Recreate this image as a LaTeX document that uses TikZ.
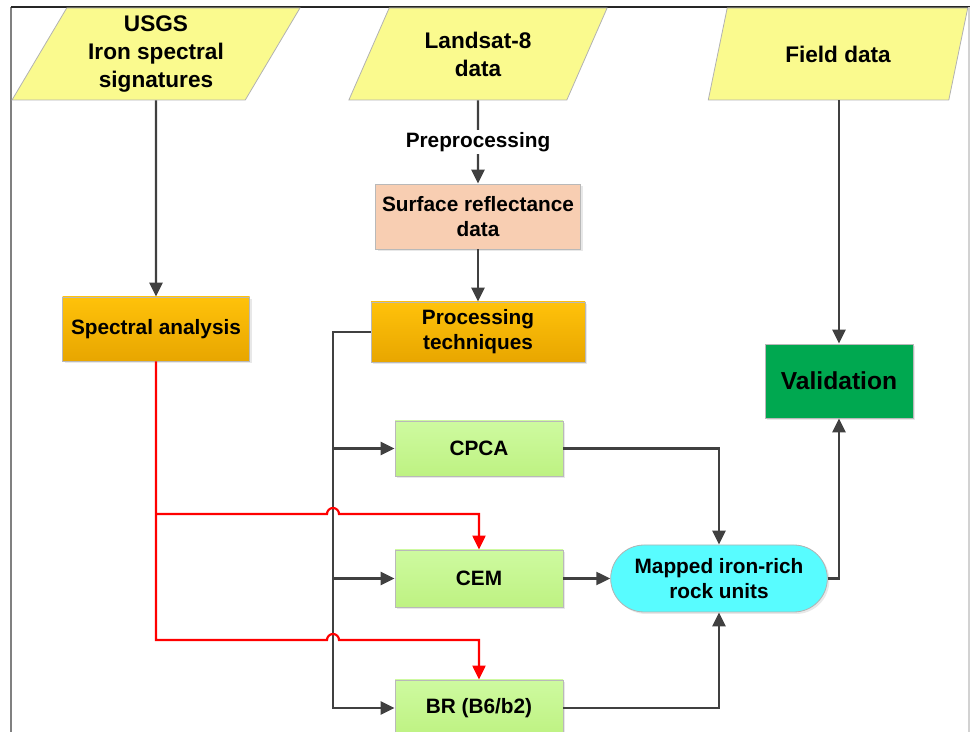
\documentclass[tikz,border=0pt]{standalone}
\usepackage{fontspec}
\setmainfont{Liberation Sans}
\usetikzlibrary{shapes.geometric, shapes.misc, arrows.meta, shadows}

\definecolor{inputyellow}{RGB}{250,250,142}
\definecolor{peach}{RGB}{248,206,178}
\definecolor{ambertop}{RGB}{255,194,10}
\definecolor{amberbot}{RGB}{232,166,0}
\definecolor{limetop}{RGB}{206,250,160}
\definecolor{limebot}{RGB}{190,242,130}
\definecolor{okgreen}{RGB}{0,168,80}
\definecolor{mapcyan}{RGB}{88,252,255}
\definecolor{wire}{RGB}{64,64,64}

\begin{document}
\begin{tikzpicture}[x=0.5pt, y=-0.5pt,
    every node/.style={font=\bfseries\fontsize{10.4}{12.5}\selectfont, align=center, text=black},
    inputbox/.style={trapezium, trapezium left angle=61.5, trapezium right angle=118.5,
        trapezium stretches=true, draw=gray!60, fill=inputyellow, inner sep=0pt,
        minimum height=46pt, font=\bfseries\fontsize{11.3}{14}\selectfont},
    box/.style={rectangle, draw=gray!55, inner sep=0pt,
        drop shadow={shadow xshift=1pt, shadow yshift=-1pt, opacity=0.18}},
    ambox/.style={box, top color=ambertop, bottom color=amberbot},
    limebox/.style={box, top color=limetop, bottom color=limebot,
        minimum width=84pt},
    flow/.style={wire, line width=1.2pt, -{Triangle[length=7pt, width=6.5pt]}},
    redflow/.style={red, line width=1.1pt, -{Triangle[length=7pt, width=6.5pt]}}]

    \useasboundingbox (0,0) rectangle (971,732);

    % Frame
    \draw[gray, line width=1pt] (11,732) -- (11,7);
    \draw[black!85, line width=0.8pt] (11,7) -- (970,7);
    \draw[gray!35, line width=0.6pt] (969,7) -- (969,732);

    % Inputs
    \node[inputbox, minimum width=144pt] (usgs) at (156,54) {USGS\\Iron spectral\\signatures};
    \node[inputbox, minimum width=130pt] (landsat) at (478,54) {Landsat-8\\data};
    \node[inputbox, minimum width=130.5pt] (field) at (838,54) {Field data};

    % Middle column
    \node[box, fill=peach, minimum width=102.5pt, minimum height=32.5pt] (surface) at (478,216.5) {Surface reflectance\\data};
    \node[ambox, minimum width=107pt, minimum height=30pt] (proc) at (478,332) {Processing\\techniques};
    \node[ambox, minimum width=93.5pt, minimum height=32pt] (spectral) at (156,329) {Spectral analysis};

    % Techniques
    \node[limebox, minimum height=27.5pt] (cpca) at (479,448.5) {CPCA};
    \node[limebox, minimum height=28.5pt] (cem) at (479,578.5) {CEM};
    \node[limebox, minimum height=28pt] (br) at (479,708) {BR (B6/b2)};

    % Result and check
    \node[rounded rectangle, draw=gray!60, fill=mapcyan, minimum width=115pt, minimum height=33.5pt,
        drop shadow={shadow xshift=1pt, shadow yshift=-1pt, opacity=0.18}] (mapped) at (719,578.5) {Mapped iron-rich\\rock units};
    \node[box, fill=okgreen, minimum width=74pt, minimum height=37pt,
        font=\bfseries\fontsize{12.3}{14}\selectfont] (valid) at (839,381) {Validation};

    % Main arrows
    \draw[flow] (usgs) -- (spectral);
    \draw[flow] (landsat) -- node[fill=white, inner sep=1pt] {Preprocessing} (surface);
    \draw[flow] (surface) -- (proc);
    \draw[flow] (field.south -| valid.north) -- (valid.north);

    % Trunk from processing techniques
    \coordinate (trunk) at (333,332);
    \draw[flow] (proc.west) -- (trunk) |- (br.west);
    \draw[flow] (trunk |- cpca.west) -- (cpca.west);
    \draw[flow] (trunk |- cem.west) -- (cem.west);

    % Spectral signatures into CEM and BR (hopping over the trunk)
    \coordinate (split) at (156,514);
    \draw[redflow] (spectral.south) -- (156,640) -- (327,640)
        arc[start angle=180, end angle=0, radius=3pt] -- (br.north |- 0,640) -- (br.north);
    \draw[redflow] (split) -- (327,514)
        arc[start angle=180, end angle=0, radius=3pt] -- (cem.north |- split) -- (cem.north);

    % Into the map, then validation
    \draw[flow] (cpca.east) -| (mapped.north);
    \draw[flow] (cem.east) -- (mapped.west);
    \draw[flow] (br.east) -| (mapped.south);
    \draw[flow] (mapped.east) -| (valid.south);
\end{tikzpicture}
\end{document}
